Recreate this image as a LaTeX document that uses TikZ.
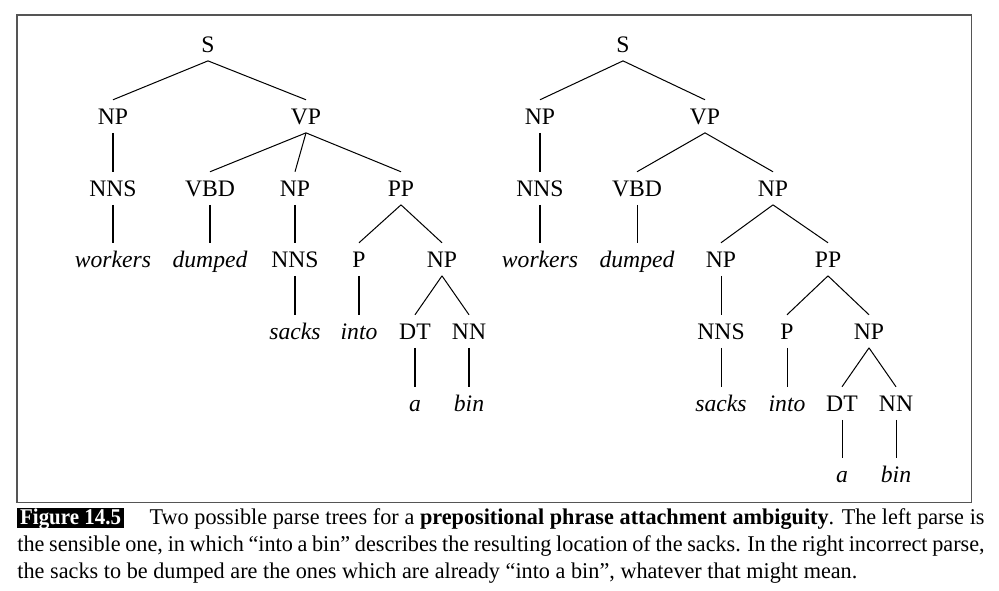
\documentclass[tikz,border=0pt]{standalone}
\usepackage{fontspec}
\setmainfont{Liberation Serif}
\newfontfamily\capfont[FakeStretch=0.985]{Liberation Serif}
\usepackage{graphicx}
\definecolor{framecol}{HTML}{555555}
\newcommand{\figlabel}{\begingroup\setlength{\fboxsep}{0pt}\colorbox{black}{\rule[-1.4pt]{0pt}{8.5pt}\hspace{1.2pt}\smash{\textcolor{white}{\scalebox{0.93}[1]{\rmfamily\bfseries Figure 14.5}}}\hspace{1.2pt}}\endgroup}
\begin{document}
\begin{tikzpicture}[x=0.444pt,y=-0.444pt,
  tn/.style={inner sep=0pt, text height=11pt, text depth=3.3pt, anchor=base, font=\fontsize{10.5}{12}\selectfont},
  tw/.style={tn, font=\fontsize{10.5}{12}\selectfont\itshape},
  br/.style={line width=0.45pt, black}]
\useasboundingbox (0,0) rectangle (999,591);
\draw[framecol, line width=0.5pt] (17,15) rectangle (971.5,502.5);
% ---------- left tree ----------
\node[tn] (lS) at (208,53) {S};
\node[tn] (lNP) at (113,125) {NP};
\node[tn] (lVP) at (306,125) {VP};
\node[tn] (lNNS) at (113,197) {NNS};
\node[tn] (lVBD) at (210,197) {VBD};
\node[tn] (lNPb) at (295,197) {NP};
\node[tn] (lPP) at (401,197) {PP};
\node[tw] (lworkers) at (113,268) {workers};
\node[tw] (ldumped) at (210,268) {dumped};
\node[tn] (lNNSb) at (295,268) {NNS};
\node[tn] (lP) at (359,268) {P};
\node[tn] (lNPc) at (442,268) {NP};
\node[tw] (lsacks) at (295,340) {sacks};
\node[tw] (linto) at (359,340) {into};
\node[tn] (lDT) at (415,340) {DT};
\node[tn] (lNN) at (469,340) {NN};
\node[tw] (la) at (415,412) {a};
\node[tw] (lbin) at (469,412) {bin};
\draw[br] (lS.south) -- (lNP.north);
\draw[br] (lS.south) -- (lVP.north);
\draw[br] (lNP.south) -- (lNNS.north);
\draw[br] (lVP.south) -- (lVBD.north);
\draw[br] (lVP.south) -- (lNPb.north);
\draw[br] (lVP.south) -- (lPP.north);
\draw[br] (lNNS.south) -- (lworkers.north);
\draw[br] (lVBD.south) -- (ldumped.north);
\draw[br] (lNPb.south) -- (lNNSb.north);
\draw[br] (lPP.south) -- (lP.north);
\draw[br] (lPP.south) -- (lNPc.north);
\draw[br] (lNNSb.south) -- (lsacks.north);
\draw[br] (lP.south) -- (linto.north);
\draw[br] (lNPc.south) -- (lDT.north);
\draw[br] (lNPc.south) -- (lNN.north);
\draw[br] (lDT.south) -- (la.north);
\draw[br] (lNN.south) -- (lbin.north);
% ---------- right tree ----------
\node[tn] (rS) at (623,53) {S};
\node[tn] (rNP) at (540,125) {NP};
\node[tn] (rVP) at (705,125) {VP};
\node[tn] (rNNS) at (540,197) {NNS};
\node[tn] (rVBD) at (637,197) {VBD};
\node[tn] (rNPb) at (773,197) {NP};
\node[tw] (rworkers) at (540,268) {workers};
\node[tw] (rdumped) at (637,268) {dumped};
\node[tn] (rNPc) at (721,268) {NP};
\node[tn] (rPP) at (828,268) {PP};
\node[tn] (rNNSb) at (721,340) {NNS};
\node[tn] (rP) at (787,340) {P};
\node[tn] (rNPd) at (869,340) {NP};
\node[tw] (rsacks) at (721,412) {sacks};
\node[tw] (rinto) at (787,412) {into};
\node[tn] (rDT) at (842,412) {DT};
\node[tn] (rNN) at (896,412) {NN};
\node[tw] (ra) at (842,483) {a};
\node[tw] (rbin) at (896,483) {bin};
\draw[br] (rS.south) -- (rNP.north);
\draw[br] (rS.south) -- (rVP.north);
\draw[br] (rNP.south) -- (rNNS.north);
\draw[br] (rVP.south) -- (rVBD.north);
\draw[br] (rVP.south) -- (rNPb.north);
\draw[br] (rNNS.south) -- (rworkers.north);
\draw[br] (rVBD.south) -- (rdumped.north);
\draw[br] (rNPb.south) -- (rNPc.north);
\draw[br] (rNPb.south) -- (rPP.north);
\draw[br] (rNPc.south) -- (rNNSb.north);
\draw[br] (rPP.south) -- (rP.north);
\draw[br] (rPP.south) -- (rNPd.north);
\draw[br] (rNNSb.south) -- (rsacks.north);
\draw[br] (rP.south) -- (rinto.north);
\draw[br] (rNPd.south) -- (rDT.north);
\draw[br] (rNPd.south) -- (rNN.north);
\draw[br] (rDT.south) -- (ra.north);
\draw[br] (rNN.south) -- (rbin.north);
% ---------- caption ----------
\node[anchor=north west, inner sep=0pt, text width=429.4pt, align=justify,
      font=\capfont\fontsize{10}{12}\selectfont] (cap) at (17,508)
  {\spaceskip=2.5pt plus 2pt minus 1.2pt\xspaceskip=3.3pt plus 2pt minus 1.2pt
   \figlabel\hspace*{11.5pt}Two possible parse trees for a \textbf{prepositional phrase attachment ambiguity}. The left parse is\linebreak
   the sensible one, in which “into a bin” describes the resulting location of the sacks. In the right incorrect parse,\linebreak
   the sacks to be dumped are the ones which are already “into a bin”, whatever that might mean.};
\end{tikzpicture}
\end{document}
